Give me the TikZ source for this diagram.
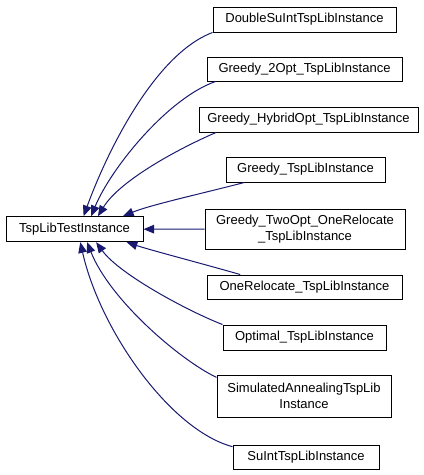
\documentclass[tikz,border=0pt]{standalone}
\usepackage{fontspec}
\setmainfont{Liberation Sans}
\usetikzlibrary{arrows.meta}
\definecolor{edgeblue}{HTML}{191970}
\begin{document}
\begin{tikzpicture}[x=0.75pt,y=-0.75pt,
  cls/.style={draw=black, line width=0.75pt, inner sep=0pt, align=center,
    font=\fontsize{9.75pt}{12pt}\selectfont, minimum height=25*0.75pt},
  inh/.style={draw=edgeblue, line width=0.75pt,
    -{Triangle[length=8pt,width=6.5pt,fill=edgeblue]}}]
\useasboundingbox (0,0) rectangle (424,475);
\node[cls, minimum width=137*0.75pt] (A) at (74.5,229.2) {TspLibTestInstance};
\node[cls, minimum width=183*0.75pt] (B1) at (304.5,19.5) {DoubleSuIntTspLibInstance};
\node[cls, minimum width=195*0.75pt, minimum height=24*0.75pt] (B2) at (304.5,69) {Greedy\_2Opt\_TspLibInstance};
\node[cls, minimum width=219*0.75pt] (B3) at (308.5,119.5) {Greedy\_HybridOpt\_TspLibInstance};
\node[cls, minimum width=159*0.75pt] (B4) at (305.5,169.5) {Greedy\_TspLibInstance};
\node[cls, minimum width=200*0.75pt, minimum height=40*0.75pt] (B5) at (305,229) {Greedy\_TwoOpt\_OneRelocate\\\_TspLibInstance};
\node[cls, minimum width=195*0.75pt, minimum height=24*0.75pt] (B6) at (304.5,287) {OneRelocate\_TspLibInstance};
\node[cls, minimum width=163*0.75pt] (B7) at (304.5,337.5) {Optimal\_TspLibInstance};
\node[cls, minimum width=174*0.75pt, minimum height=42*0.75pt] (B8) at (304,396) {SimulatedAnnealingTspLib\\Instance};
\node[cls, minimum width=146*0.75pt, minimum height=24*0.75pt] (B9) at (306,457) {SuIntTspLibInstance};

\draw[inh] (B1.south west) .. controls (153,55) and (105,157) .. (A.55);
\draw[inh] (B2.188) .. controls (168,98) and (111,168) .. (A.38);
\draw[inh] (B3.188) .. controls (180,148) and (120,180) .. (A.29);
\draw[inh] (B4.192) .. controls (200,194) and (150,205) .. (A.15);
\draw[inh] (B5.west) -- (A.east);
\draw[inh] (B6.169) .. controls (200,263) and (150,250) .. (A.-14);
\draw[inh] (B7.171) .. controls (190,312) and (120,275) .. (A.-31);
\draw[inh] (B8.168) .. controls (180,360) and (110,300) .. (A.-46);
\draw[inh] (B9.172) .. controls (170,430) and (100,330) .. (A.-66);
\end{tikzpicture}
\end{document}
